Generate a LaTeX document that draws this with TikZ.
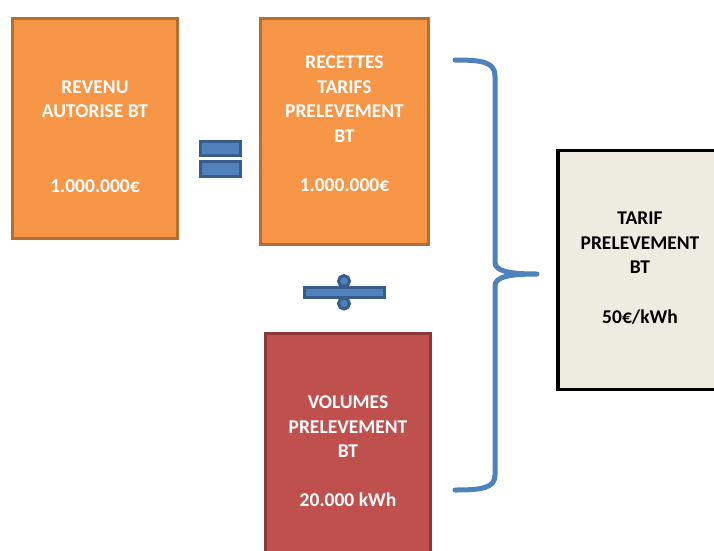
\documentclass[tikz,border=0pt]{standalone}
\usepackage{fontspec}
\setmainfont{Carlito}
\usetikzlibrary{positioning}
\definecolor{orfill}{HTML}{F79646}
\definecolor{ordraw}{HTML}{B66D31}
\definecolor{rdfill}{HTML}{C0504D}
\definecolor{rddraw}{HTML}{8C3836}
\definecolor{bgfill}{HTML}{EEECE1}
\definecolor{sgfill}{HTML}{4F81BD}
\definecolor{sgdraw}{HTML}{385D8A}

\begin{document}
\begin{tikzpicture}[x=1pt, y=-1pt, font=\fontsize{19.5}{24.5}\selectfont\bfseries,
  box/.style={draw, line width=3.5pt, inner sep=0pt},
  orbox/.style={box, fill=orfill, draw=ordraw, minimum width=165pt},
  rdbox/.style={box, fill=rdfill, draw=rddraw, minimum width=165pt, minimum height=230pt},
  bgbox/.style={box, fill=bgfill, draw=black, minimum width=164pt, minimum height=239pt},
  txt/.style={align=center, text=white},
  bar/.style={draw=sgdraw, fill=sgfill, line width=3pt, inner sep=0pt},
  dot/.style={bar, circle, minimum size=11pt}]
\clip (0,0) rectangle (714,550);
% the three figures of the calculation
\node[orbox, minimum height=220pt] (rev) at (95,128.5) {};
\node[orbox, minimum width=168pt, minimum height=226pt] (rec) at (344.5,131.5) {};
\node[rdbox] (vol) at (348,448.5) {};
\node[txt] (rev-t) at (95,136.5) {REVENU\\AUTORISE BT\\[50pt]1.000.000€};
\node[txt] (rec-t) at (344.5,124) {RECETTES\\TARIFS\\PRELEVEMENT\\BT\\[25pt]1.000.000€};
\node[txt] (vol-t) at (348,451) {VOLUMES\\PRELEVEMENT\\BT\\[24pt]20.000 kWh};
% result
\node[bgbox] (tar) at (640,270) {};
\node[align=center] (tar-t) at (640,268) {TARIF\\PRELEVEMENT\\BT\\[25pt]50€/kWh};
% equals sign
\node[bar, minimum width=40pt, minimum height=14pt] (eq1) at (220.7,148) {};
\node[bar, minimum width=40pt, minimum height=15pt] (eq2) at (220.7,168.5) {};
% division sign
\node[bar, minimum width=80pt, minimum height=10.5pt] (div) at (344,292.3) {};
\node[dot, above=-2.5pt of div] (div-a) {};
\node[dot, below=-2.5pt of div] (div-b) {};
% brace gathering the calculation
\draw[sgfill, line width=5pt, line cap=round, line join=round]
  (455,60) .. controls (482,60) and (495,62) .. (495,76) -- (495,262)
  .. controls (495,271) and (508,274) .. (537,274)
  .. controls (508,274) and (495,277) .. (495,286) -- (495,475)
  .. controls (495,488) and (482,490) .. (455,490);
\end{tikzpicture}
\end{document}
